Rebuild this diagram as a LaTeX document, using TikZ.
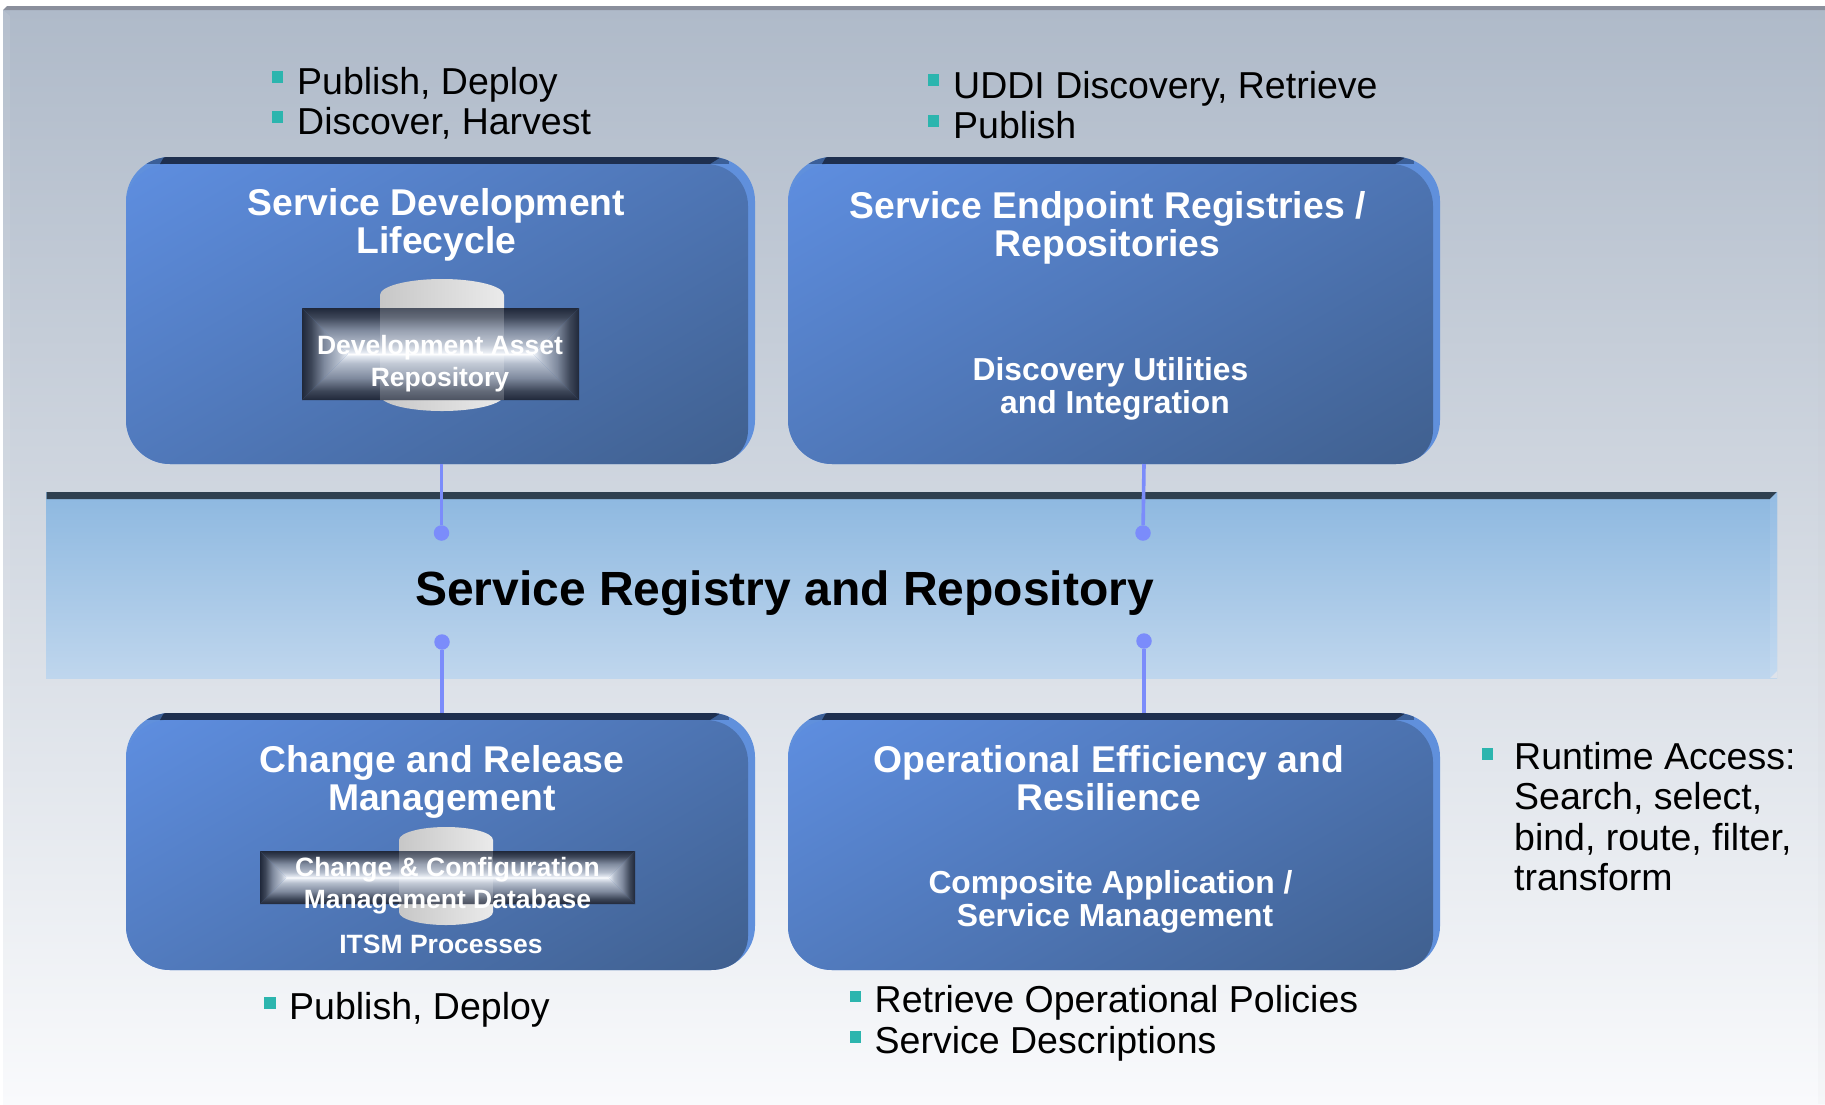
\documentclass[tikz,border=0pt]{standalone}
\usepackage{fontspec}
\setmainfont{Liberation Sans}
\definecolor{bultc}{HTML}{2CB5AE}
\definecolor{lnk}{HTML}{7B8CFB}
\definecolor{navy}{HTML}{1E2F4F}
\definecolor{sideb}{HTML}{6090DC}
\definecolor{cornb}{HTML}{3B5F98}
\definecolor{faceA}{HTML}{5E8EE0}
\definecolor{faceB}{HTML}{40608F}
\definecolor{bevE}{HTML}{20283A}
\definecolor{bevD}{HTML}{3D4658}
\definecolor{bevM}{HTML}{7F8A9E}
\definecolor{bevL}{HTML}{B5BECD}
\definecolor{bevH}{HTML}{E5EAF2}
\definecolor{panT}{HTML}{AFBAC9}
\definecolor{panB}{HTML}{F9FAFC}
\definecolor{panTop}{HTML}{8A8F9C}
\definecolor{panMid}{HTML}{DEE3EB}
\definecolor{regT}{HTML}{8DB8E0}
\definecolor{regB}{HTML}{BFD6ED}
\definecolor{regD}{HTML}{2F4050}
\definecolor{regST}{HTML}{94BCE3}
\definecolor{regSB}{HTML}{C4DAF0}
\pgfdeclarehorizontalshading{facegrad}{100bp}{color(0bp)=(faceA); color(16bp)=(faceA); color(84bp)=(faceB); color(100bp)=(faceB)}
\pgfdeclareverticalshading{bevelv}{100bp}{color(0bp)=(bevE); color(25bp)=(bevE); color(30bp)=(bevD); color(37bp)=(bevM); color(45bp)=(bevL); color(49bp)=(bevH); color(50bp)=(white); color(51bp)=(bevH); color(55bp)=(bevL); color(63bp)=(bevM); color(70bp)=(bevD); color(75bp)=(bevE); color(100bp)=(bevE)}
\pgfdeclarehorizontalshading{cylgrad}{100bp}{color(0bp)=(black!22); color(25bp)=(black!22); color(75bp)=(black!8); color(100bp)=(black!8)}
\tikzset{
  bullet/.style={rectangle,fill=bultc,minimum size=11.5pt,inner sep=0pt},
  itemtxt/.style={anchor=base west,inner sep=0pt,font=\fontsize{37.5}{40.5}\selectfont,text=black},
  titletxt/.style={anchor=base,inner sep=0pt,align=center,text=white,font=\fontsize{37.3}{38}\selectfont\bfseries},
  subtxt/.style={anchor=base,inner sep=0pt,align=center,text=white,font=\fontsize{31.8}{33}\selectfont\bfseries},
  smalltxt/.style={anchor=base,inner sep=0pt,align=center,text=white,font=\fontsize{26.5}{32}\selectfont\bfseries},
  outerbox/.style={rectangle,rounded corners=44pt,fill=sideb,inner sep=0pt},
  linkline/.style={draw=lnk,line width=3.6pt},
  linkdot/.style={circle,fill=lnk,minimum size=15.5pt,inner sep=0pt},
}
% name, x0, y0, x1, y1
\newcommand{\regbox}[5]{%
  \pgfmathsetmacro{\cxx}{(#2+#4)/2}\pgfmathsetmacro{\cyy}{(#3+#5)/2}%
  \pgfmathsetmacro{\ww}{#4-#2}\pgfmathsetmacro{\hh}{#5-#3}%
  \node[outerbox,minimum width=\ww pt,minimum height=\hh pt] (#1) at (\cxx,\cyy) {};
  \begin{scope}
    \clip[rounded corners=44pt] (#2,#3) rectangle (#4,#5);
    \fill[cornb] (#2,#3) rectangle ({#2+60},{#3+7});
    \fill[cornb] ({#4-50},#3) rectangle ({#4-26},{#3+7});
    \fill[navy] ({#2+38},#3) -- ({#4-34},#3) -- ({#4-45},{#3+7}) -- ({#2+34},{#3+7}) -- cycle;
    \shade[shading=facegrad,shading angle=300,rounded corners=42pt] (#2,\cyy) -- (#2,{#3+7}) -- ({#4-7},{#3+7}) -- ({#4-7},\cyy) [rounded corners=34pt] -- ({#4-7},#5) [rounded corners=42pt] -- (#2,#5) -- cycle;
  \end{scope}
}
% x0,y0,x1,y1
\newcommand{\bevelband}[4]{%
  \pgfmathsetmacro{\hb}{(#4-#2)/2}\pgfmathsetmacro{\mb}{(#2+#4)/2}%
  \begin{scope}
    \clip (#1,#2) -- (#3,#2) -- ({#3-\hb},\mb) -- (#3,#4) -- (#1,#4) -- ({#1+\hb},\mb) -- cycle;
    \shade[shading=bevelv] (#1,#2) rectangle (#3,#4);
  \end{scope}
  \begin{scope}
    \clip (#1,#2) -- ({#1+\hb},\mb) -- (#1,#4) -- cycle;
    \shade[shading=bevelv,shading angle=90] (#1,#2) rectangle ({#1+2*\hb},#4);
  \end{scope}
  \begin{scope}
    \clip (#3,#2) -- ({#3-\hb},\mb) -- (#3,#4) -- cycle;
    \shade[shading=bevelv,shading angle=90] ({#3-2*\hb},#2) rectangle (#3,#4);
  \end{scope}
}
% x0,ytop,x1,ybot,ry
\newcommand{\cyl}[5]{%
  \shade[shading=cylgrad] (#1,{#2+#5}) arc[start angle=180,end angle=360,x radius={(#3-#1)/2},y radius=#5] -- (#3,{#4-#5}) arc[start angle=0,end angle=180,x radius={(#3-#1)/2},y radius=#5] -- cycle;
}
\begin{document}
\begin{tikzpicture}[x=1pt,y=-1pt]
\useasboundingbox (0,0) rectangle (1825,1104);
\fill[white] (0,0) rectangle (1825,1104);
% panel
\shade[top color=panT,bottom color=panB] (3,10) rectangle (1825,1104);
\fill[black!25,opacity=.06] (1818,10) rectangle (1825,1104);
\fill[white,opacity=.08] (3,10) -- (10,16) -- (10,1104) -- (3,1104) -- cycle;
\fill[panTop] (7,6) -- (1825,6) -- (1825,10) -- (3,10) -- cycle;
% central band
\node[rectangle,inner sep=0pt,minimum width=1731pt,minimum height=186pt,top color=regT,bottom color=regB] (reg) at (911.5,585) {};
\fill[regD] (46.5,492) -- (1777,492) -- (1770,499) -- (46.5,499) -- cycle;
\shade[top color=regST,bottom color=regSB] (1777,492) -- (1770,499) -- (1770,678) -- (1777,671) -- cycle;
\fill[panMid] (1777,671) -- (1777,678) -- (1770,678) -- cycle;
\node[anchor=base,inner sep=0pt,font=\fontsize{48}{50}\selectfont\bfseries] (regtxt) at (784.5,605) {Service Registry and Repository};
% boxes
\regbox{b1}{126}{157}{755}{464}
\regbox{b2}{788}{157}{1440}{464}
\regbox{b3}{126}{713}{755}{970}
\regbox{b4}{788}{713}{1440}{970}
% connectors
\node[linkdot] (d1) at (441.5,533) {};
\node[linkdot] (d2) at (1143,533) {};
\node[linkdot] (d3) at (442,642) {};
\node[linkdot] (d4) at (1144,641) {};
\coordinate (e2) at (1144,464);
\draw[linkline] (d1) -- (d1 |- b1.south);
\draw[linkline] (d2) -- (e2);
\draw[linkline] (d3) -- (d3 |- b3.north);
\draw[linkline] (d4) -- (d4 |- b4.north);
% box 1 content
\cyl{380}{279}{504}{411}{16}
\bevelband{302}{308}{579}{400}
\fill[white,opacity=.2] (380,308) rectangle (504,400);
\node[titletxt] (t1) at (436.5,253) {Service Development\\Lifecycle};
\node[smalltxt] (r1) at (440,386) {Development Asset\\Repository};
% box 2 content
\node[titletxt] (t2) at (1107.5,256) {Service Endpoint Registries /\\Repositories};
\node[subtxt] (s2) at (1110.5,413) {Discovery Utilities\\\hspace*{9pt}and Integration};
% box 3 content
\cyl{399}{827}{493}{925}{13}
\bevelband{260}{851}{635}{904}
\fill[white,opacity=.2] (399,851) rectangle (493,904);
\node[titletxt] (t3) at (442,810) {Change and Release\\Management};
\node[smalltxt] (r3) at (447.5,908) {Change \& Configuration\\Management Database};
\node[smalltxt] (i3) at (441,953) {ITSM Processes};
% box 4 content
\node[titletxt] (t4) at (1109,810) {Operational Efficiency and\\Resilience};
\node[subtxt] (s4) at (1110.5,926.5) {Composite Application /\\\hspace*{9pt}Service Management};
% bullets
\node[bullet] (p1) at (277.5,77) {};
\node[bullet] (p2) at (277.5,117) {};
\node[itemtxt] (pt1) at (297,94) {Publish, Deploy};
\node[itemtxt] (pt2) at (297,134.5) {Discover, Harvest};
\node[bullet] (q1) at (933.5,80) {};
\node[bullet] (q2) at (933.5,121) {};
\node[itemtxt] (qt1) at (953,98) {UDDI Discovery, Retrieve};
\node[itemtxt] (qt2) at (953,138.5) {Publish};
\node[bullet] (u1) at (270,1003) {};
\node[itemtxt] (ut1) at (289,1019) {Publish, Deploy};
\node[bullet] (v1) at (855.5,996.5) {};
\node[bullet] (v2) at (855.5,1037) {};
\node[itemtxt] (vt1) at (874.5,1012.5) {Retrieve Operational Policies};
\node[itemtxt] (vt2) at (874.5,1053) {Service Descriptions};
\node[bullet] (w1) at (1487.5,754) {};
\node[itemtxt,align=left] (wt1) at (1514,890.5) {Runtime Access:\\Search, select,\\bind, route, filter,\\transform};
\end{tikzpicture}
\end{document}
